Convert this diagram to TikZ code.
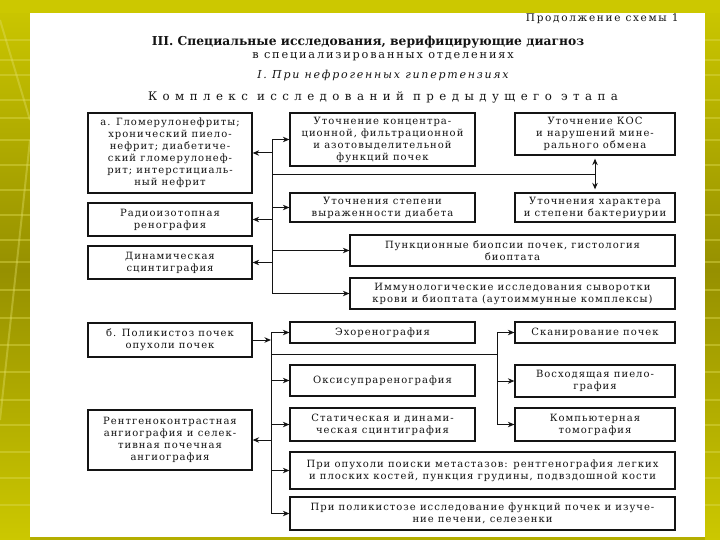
\documentclass[tikz,border=0pt]{standalone}
\usepackage{fontspec}
\setmainfont{DejaVu Serif}
\newfontfamily\bxfont[LetterSpace=10]{DejaVu Serif}
\newfontfamily\hdfont[LetterSpace=16]{DejaVu Serif}
\newfontfamily\kompfont[LetterSpace=46]{DejaVu Serif}
\usetikzlibrary{arrows.meta}
\definecolor{olivebg}{RGB}{180,174,0}
\definecolor{olivedark}{RGB}{150,144,0}
\definecolor{yellowbg}{RGB}{204,200,0}
\definecolor{ink}{RGB}{20,20,20}
\tikzset{
  box/.style={draw=ink, line width=1.3pt, fill=white, align=center, inner sep=2pt,
    text=ink, font=\bxfont\fontsize{10}{12}\selectfont},
  conn/.style={draw=ink, line width=1pt},
  arr/.style={conn, -{Stealth[length=6.5pt,width=5.5pt]}},
  dbl/.style={conn, {Stealth[length=6.5pt,width=5.5pt]}-{Stealth[length=6.5pt,width=5.5pt]}},
}
\begin{document}
\begin{tikzpicture}[x=1pt,y=-1pt]
\useasboundingbox (0,0) rectangle (720,540);
% background slide
\fill[olivebg] (0,0) rectangle (720,540);
\shade[top color=yellowbg, bottom color=olivedark] (0,0) rectangle (30,270);
\shade[top color=olivedark, bottom color=yellowbg] (0,270) rectangle (30,540);
\shade[top color=yellowbg, bottom color=olivedark] (705,0) rectangle (720,270);
\shade[top color=olivedark, bottom color=yellowbg] (705,270) rectangle (720,540);
\foreach \yy in {40,60,75,100,118,140,165,190,215,240,262,290,318,345,372,400,425,452,478,505}{
  \draw[yellowbg!70!white, opacity=0.45, line width=1.2pt] (0,\yy) -- (30,\yy);
  \draw[yellowbg!70!white, opacity=0.45, line width=1.2pt] (705,\yy) -- (720,\yy);
}
\draw[yellowbg!60!white, opacity=0.4, line width=2pt] (0,20) -- (30,120);
\draw[yellowbg!60!white, opacity=0.4, line width=2pt] (30,140) -- (0,420);
\fill[yellowbg] (0,0) rectangle (720,13);
\fill[white] (30,13) rectangle (705,537);

% titles
\node[anchor=east, text=ink, font=\hdfont\fontsize{10.5}{12}\selectfont] (cont) at (682,19) {Продолжение схемы 1};
\node[text=ink, font=\bfseries\fontsize{12.3}{14}\selectfont] (t1) at (368,42) {III. Специальные исследования, верифицирующие диагноз};
\node[text=ink, font=\hdfont\fontsize{11.3}{13}\selectfont] (t2) at (383,57) {в специализированных отделениях};
\node[text=ink, font=\hdfont\itshape\fontsize{11}{13}\selectfont] (t3) at (383,75) {I. При нефрогенных гипертензиях};
\node[text=ink, font=\kompfont\fontsize{11.8}{13}\selectfont] (t4) at (383,97) {Комплекс исследований предыдущего этапа};

% upper section boxes
\node[box, minimum width=164, minimum height=80] (A) at (170,153)
  {а. Гломерулонефриты;\\хронический пиело-\\нефрит; диабетиче-\\ский гломерулонеф-\\рит; интерстициаль-\\ный нефрит};
\node[box, minimum width=164, minimum height=33] (B) at (170,219.5) {Радиоизотопная\\ренография};
\node[box, minimum width=164, minimum height=33] (C) at (170,262.5) {Динамическая\\сцинтиграфия};
\node[box, minimum width=185, minimum height=53] (D) at (382.5,139.5)
  {Уточнение концентра-\\ционной, фильтрационной\\и азотовыделительной\\функций почек};
\node[box, minimum width=160, minimum height=42] (E) at (595,134) {Уточнение КОС\\и нарушений мине-\\рального обмена};
\node[box, minimum width=185, minimum height=29] (F) at (382.5,207.5) {Уточнения степени\\выраженности диабета};
\node[box, minimum width=160, minimum height=29] (H) at (595,207.5) {Уточнения характера\\и степени бактериурии};
\node[box, minimum width=325, minimum height=31] (I) at (512.5,250.5) {Пункционные биопсии почек, гистология\\биоптата};
\node[box, minimum width=325, minimum height=31] (J) at (512.5,293.5) {Иммунологические исследования сыворотки\\крови и биоптата (аутоиммунные комплексы)};

% lower section boxes
\node[box, minimum width=164, minimum height=34] (K) at (170,340) {б. Поликистоз почек\\опухоли почек};
\node[box, minimum width=185, minimum height=21] (L) at (382.5,332.5) {Эхоренография};
\node[box, minimum width=185, minimum height=31] (M) at (382.5,380.5) {Оксисупраренография};
\node[box, minimum width=185, minimum height=33] (N) at (382.5,424.5) {Статическая и динами-\\ческая сцинтиграфия};
\node[box, minimum width=160, minimum height=21] (Q) at (595,332.5) {Сканирование почек};
\node[box, minimum width=160, minimum height=32] (R) at (595,381) {Восходящая пиело-\\графия};
\node[box, minimum width=160, minimum height=33] (S) at (595,424.5) {Компьютерная\\томография};
\node[box, minimum width=164, minimum height=60] (T) at (170,440)
  {Рентгеноконтрастная\\ангиография и селек-\\тивная почечная\\ангиография};
\node[box, minimum width=385, minimum height=37] (O) at (482.5,470.5)
  {При опухоли поиски метастазов: рентгенография легких\\и плоских костей, пункция грудины, подвздошной кости};
\node[box, minimum width=385, minimum height=33] (P) at (482.5,513.5)
  {При поликистозе исследование функций почек и изуче-\\ние печени, селезенки};

% upper connectors
\coordinate (tr) at (272,0);
\coordinate (hl) at (272,175);
\draw[conn] (D.west -| tr) -- (J.west -| tr);
\draw[arr] (D.west -| tr) -- (D.west);
\draw[arr] (A.east -| tr) -- (A.east);
\draw[arr] (B.east -| tr) -- (B.east);
\draw[arr] (C.east -| tr) -- (C.east);
\draw[arr] (F.west -| tr) -- (F.west);
\draw[arr] (I.west -| tr) -- (I.west);
\draw[arr] (J.west -| tr) -- (J.west);
\draw[conn] (hl) -- (hl -| E.south);
\draw[dbl, shorten <=3pt, shorten >=3pt] (E.south) -- (H.north);

% lower connectors
\coordinate (tr2) at (271,0);
\coordinate (rt) at (497,0);
\coordinate (hl2) at (271,354);
\draw[conn] (L.west -| tr2) -- (P.west -| tr2);
\draw[arr] (K.east) -- (K.east -| tr2);
\draw[arr] (L.west -| tr2) -- (L.west);
\draw[arr] (M.west -| tr2) -- (M.west);
\draw[arr] (N.west -| tr2) -- (N.west);
\draw[arr] (O.west -| tr2) -- (O.west);
\draw[arr] (P.west -| tr2) -- (P.west);
\draw[arr] (T.east -| tr2) -- (T.east);
\draw[conn] (hl2) -- (hl2 -| rt);
\draw[conn] (Q.west -| rt) -- (S.west -| rt);
\draw[arr] (Q.west -| rt) -- (Q.west);
\draw[arr] (R.west -| rt) -- (R.west);
\draw[arr] (S.west -| rt) -- (S.west);
\end{tikzpicture}
\end{document}
